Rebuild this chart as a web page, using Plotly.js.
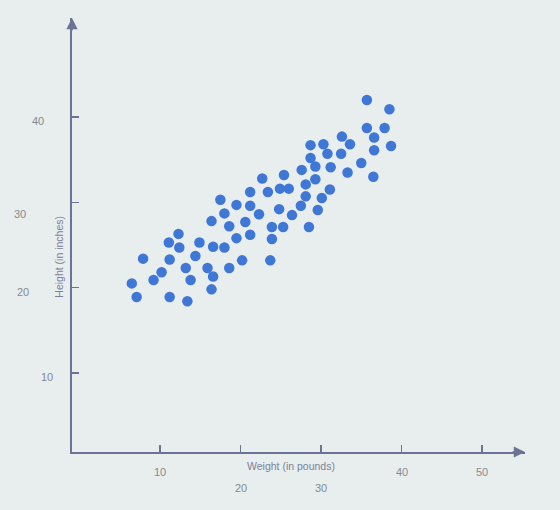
<!DOCTYPE html>
<html>
<head>
<meta charset="utf-8">
<script src="https://cdn.plot.ly/plotly-3.0.1.min.js"></script>
<style>html,body{margin:0;padding:0;background:#e8edee;}</style>
</head>
<body>
<div id="chart" style="width:560px;height:510px;"></div>
<script>
// Data
const weight = [35.7,38.5,35.7,37.9,36.6,32.6,33.6,38.7,36.6,28.7,30.3,30.8,32.5,28.7,29.3,31.2,35.0,33.3,36.5,27.6,25.4,22.7,29.3,28.1,24.9,26.0,23.4,21.2,31.1,28.1,30.1,17.5,19.5,21.2,27.5,24.8,29.6,18.0,22.3,26.4,16.4,20.6,18.6,23.9,25.3,28.5,12.3,21.2,19.5,23.9,11.1,14.9,12.4,16.6,18.0,14.4,7.9,11.2,20.2,23.7,13.2,15.9,18.6,10.2,16.6,9.2,13.8,6.5,16.4,7.1,11.2,13.4];
const height = [42.0,40.9,38.7,38.7,37.6,37.7,36.8,36.6,36.1,36.7,36.8,35.7,35.7,35.2,34.2,34.1,34.6,33.5,33.0,33.8,33.2,32.8,32.7,32.1,31.6,31.6,31.2,31.2,31.5,30.7,30.5,30.3,29.7,29.6,29.6,29.2,29.1,28.7,28.6,28.5,27.8,27.7,27.2,27.1,27.1,27.1,26.3,26.2,25.8,25.7,25.3,25.3,24.7,24.8,24.7,23.7,23.4,23.3,23.2,23.2,22.3,22.3,22.3,21.8,21.3,20.9,20.9,20.5,19.8,18.9,18.9,18.4];
const xTickVals = [10, 20, 30, 40, 50];
const xTickText = ["10", "20", "30", "40", "50"];
const yTickVals = [10, 20, 30, 40];
const yTickText = ["10", "20", "30", "40"];
const xTitle = "Weight (in pounds)";
const yTitle = "Height (in inches)";

// Styling / label offsets (pixels)
const xLabelShiftY = [-20, -36, -36, -20, -20];
const yLabelShift = [[-25, -4], [-49, -4], [-52, -12], [-34, -4]];
const axisColor = "#6c7394";
const labelColor = "#858a90";
const font = "Liberation Sans, Arial, sans-serif";

const annotations = [];
xTickVals.forEach((v, i) => {
  annotations.push({x: v, y: 0, xref: "x", yref: "paper", text: xTickText[i], showarrow: false,
    xanchor: "center", yanchor: "middle",
    yshift: xLabelShiftY[i], font: {family: font, size: 11, color: labelColor}});
});
yTickVals.forEach((v, i) => {
  annotations.push({x: 0, y: v, xref: "paper", yref: "y", text: yTickText[i], showarrow: false,
    xanchor: "center", yanchor: "middle",
    xshift: yLabelShift[i][0], yshift: yLabelShift[i][1], font: {family: font, size: 11, color: labelColor}});
});
// axis titles
annotations.push({x: 0.483, y: 0, xref: "paper", yref: "paper", text: xTitle, showarrow: false,
  xanchor: "center", yanchor: "middle",
  yshift: -14, font: {family: font, size: 10.5, color: "#7d8299"}});
annotations.push({x: 0, y: 0.45, xref: "paper", yref: "paper", text: yTitle, showarrow: false, textangle: -90,
  xanchor: "center", yanchor: "middle",
  xshift: -13, font: {family: font, size: 10.5, color: "#7d8299"}});
// arrowheads
annotations.push({x: 1, y: 0, xref: "paper", yref: "paper", ax: -14, ay: 0, text: "", showarrow: true,
  arrowhead: 2, arrowsize: 1.4, arrowwidth: 1.6, arrowcolor: axisColor});
annotations.push({x: 0, y: 1, xref: "paper", yref: "paper", ax: 0, ay: 14, text: "", showarrow: true,
  arrowhead: 2, arrowsize: 1.4, arrowwidth: 1.6, arrowcolor: axisColor});

const trace = {
  x: weight, y: height, type: "scatter", mode: "markers",
  marker: {color: "#3f77d6", size: 10.5, line: {width: 0}},
  hoverinfo: "x+y"
};

const layout = {
  width: 560, height: 510,
  margin: {l: 72, r: 35, t: 18, b: 58, pad: 0},
  paper_bgcolor: "#e8edee",
  plot_bgcolor: "#e8edee",
  showlegend: false,
  font: {family: font},
  xaxis: {range: [-0.93, 55.34], showgrid: false, zeroline: false, showline: true,
    linecolor: axisColor, linewidth: 1.6, ticks: "inside", ticklen: 7, tickwidth: 1.4,
    tickcolor: axisColor, tickvals: xTickVals, showticklabels: false, fixedrange: true},
  yaxis: {range: [0.74, 51.6], showgrid: false, zeroline: false, showline: true,
    linecolor: axisColor, linewidth: 1.6, ticks: "inside", ticklen: 7, tickwidth: 1.4,
    tickcolor: axisColor, tickvals: yTickVals, showticklabels: false, fixedrange: true},
  annotations: annotations
};

Plotly.newPlot("chart", [trace], layout, {displayModeBar: false, staticPlot: true});
</script>
</body>
</html>
